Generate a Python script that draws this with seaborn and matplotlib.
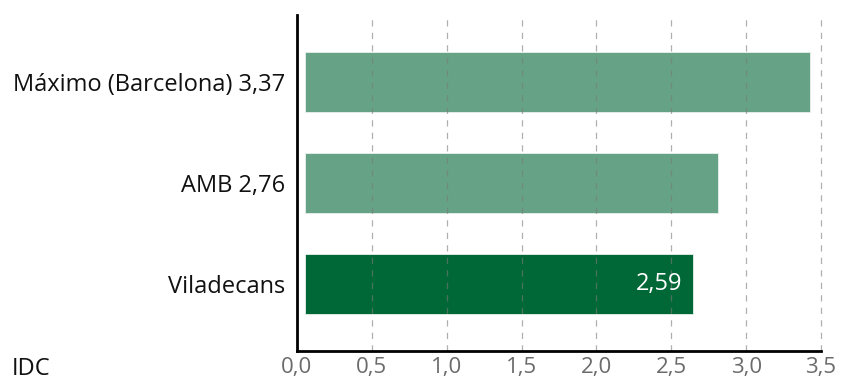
import matplotlib
matplotlib.use("Agg")
import matplotlib.pyplot as plt
import matplotlib.transforms as mtransforms
import seaborn as sns
import pandas as pd

categories = ["Máximo (Barcelona) 3,37", "AMB 2,76", "Viladecans"]
values = [3.37, 2.76, 2.59]
bar_colors = ["#66a386", "#66a386", "#006837"]
x_ticks = [0.0, 0.5, 1.0, 1.5, 2.0, 2.5, 3.0, 3.5]
x_tick_labels = ["0,0", "0,5", "1,0", "1,5", "2,0", "2,5", "3,0", "3,5"]
inner_label = "2,59"
axis_title = "IDC"

sns.set_theme(style="white")
plt.rcParams['font.family'] = ['Open Sans', 'DejaVu Sans']

df = pd.DataFrame({"cat": categories, "val": values})

fig = plt.figure(figsize=(8.45, 3.81), dpi=100)
ax = fig.add_axes([297/845, 1-351/381, (821-297)/845, (351-15)/381])

sns.barplot(data=df, x="val", y="cat", hue="cat", palette=bar_colors,
            legend=False, width=0.6, ax=ax, saturation=1, zorder=2,
            edgecolor="#e8f0eb", linewidth=0.6)

# bars start slightly to the right of the axis line
shift = mtransforms.ScaledTranslation(8/100, 0, fig.dpi_scale_trans)
for p in ax.patches:
    p.set_transform(ax.transData + shift)

ax.set_xlim(0, 3.5)
ax.set_ylim(2.663, -0.663)
ax.set_xticks(x_ticks)
ax.set_xticklabels(x_tick_labels, fontsize=16, color="#6b6b6b")
ax.tick_params(axis="x", length=0, pad=4)
ax.tick_params(axis="y", length=0, pad=8.6, labelsize=17, labelcolor="#111111")
ax.set_xlabel("")
ax.set_ylabel("")

for x in x_ticks[1:]:
    ax.axvline(x, color="#7a7a7a", linestyle=(0, (5, 5)), linewidth=0.9,
               alpha=0.6, zorder=3, clip_on=False)

for s in ["top", "right"]:
    ax.spines[s].set_visible(False)
for s in ["left", "bottom"]:
    ax.spines[s].set_color("black")
    ax.spines[s].set_linewidth(2)
    ax.spines[s].set_zorder(4)

ax.text(values[2], 2, inner_label, transform=ax.transData + mtransforms.ScaledTranslation(-2/100, 0, fig.dpi_scale_trans),
        ha="right", va="center", color="white", fontsize=17, zorder=5)

fig.text(12/845, 1-369/381, axis_title, ha="left", va="center", fontsize=17, color="#111111")

fig.savefig("out.png", dpi=100)
